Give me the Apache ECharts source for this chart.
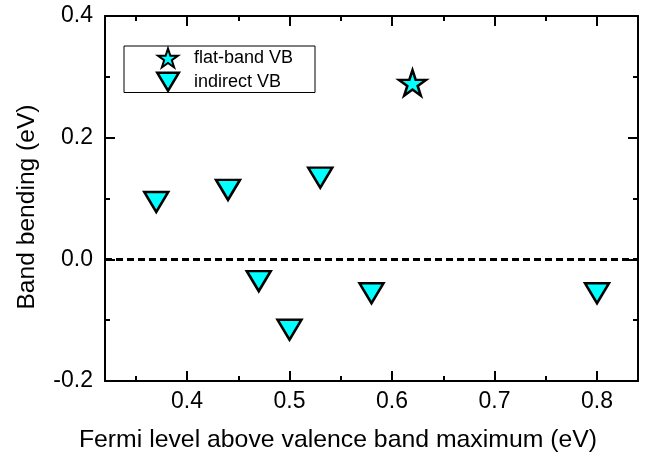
<!DOCTYPE html>
<html>
<head>
<meta charset="utf-8">
<script src="https://cdn.jsdelivr.net/npm/echarts@6/dist/echarts.min.js"></script>
<style>
  html, body { margin: 0; padding: 0; background: #fff; }
  #chart { width: 654px; height: 456px; }
</style>
</head>
<body>
<div id="chart"></div>
<script>
// Band bending versus Fermi level position
const flatBandX = [0.62];
const flatBandY = [0.29];
const indirectX = [0.37, 0.44, 0.47, 0.50, 0.53, 0.58, 0.80];
const indirectY = [0.10, 0.12, -0.03, -0.11, 0.14, -0.05, -0.05];

const xMajorTicks = [0.4, 0.5, 0.6, 0.7, 0.8];
const xMinorTicks = [0.35, 0.45, 0.55, 0.65, 0.75];
const xRange = [0.32, 0.84];
const yRange = [-0.2, 0.4];
const yStep = 0.2;
const zeroLevel = 0;

const seriesNames = ['flat-band VB', 'indirect VB'];
const xTitle = 'Fermi level above valence band maximum (eV)';
const yTitle = 'Band bending (eV)';

const FONT = "'Liberation Sans', Arial, sans-serif";
const CYAN = '#00FFFF';
const STAR = 'path://M0,-50 L11.23,-15.45 L47.55,-15.45 L18.17,5.9 L29.39,40.45 L0,19.1 L-29.39,40.45 L-18.17,5.9 L-47.55,-15.45 L-11.23,-15.45 Z';
const TRI_DOWN = 'path://M0,0 L24,0 L12,20 Z';

const zip = (xs, ys) => xs.map((x, i) => [x, ys[i]]);

const markerStyle = (w) => ({
  color: CYAN, borderColor: '#000', borderWidth: w, opacity: 1,
  borderJoin: 'miter', borderMiterLimit: 10
});

function xAxisDef(position, ticks, length, withLine, withLabels) {
  return {
    type: 'value', position: position, min: xRange[0], max: xRange[1],
    axisLine: { show: withLine, onZero: false, lineStyle: { color: '#000', width: 2 } },
    axisTick: { show: true, inside: true, length: length, customValues: ticks,
                lineStyle: { color: '#000', width: 2 } },
    axisLabel: withLabels ? {
      show: true, customValues: ticks, margin: 9,
      fontSize: 23, fontFamily: FONT, color: '#000',
      formatter: v => v.toFixed(1)
    } : { show: false },
    splitLine: { show: false }
  };
}

function yAxisDef(position, withLabels) {
  return {
    type: 'value', position: position, min: yRange[0], max: yRange[1], interval: yStep,
    axisLine: { show: true, onZero: false, lineStyle: { color: '#000', width: 2 } },
    axisTick: { show: true, inside: true, length: 10, lineStyle: { color: '#000', width: 2 } },
    minorTick: { show: true, splitNumber: 2, length: 5, lineStyle: { color: '#000', width: 2 } },
    axisLabel: withLabels ? {
      show: true, margin: 12, fontSize: 23, fontFamily: FONT, color: '#000',
      formatter: v => v.toFixed(1)
    } : { show: false },
    splitLine: { show: false }
  };
}

const chart = echarts.init(document.getElementById('chart'), null, { renderer: 'canvas' });

chart.setOption({
  animation: false,
  backgroundColor: '#fff',
  grid: { left: 105, right: 16, top: 16, bottom: 75, containLabel: false },
  xAxis: [
    xAxisDef('bottom', xMajorTicks, 10, true, true),
    xAxisDef('bottom', xMinorTicks, 5, false, false),
    xAxisDef('top', xMajorTicks, 10, true, false),
    xAxisDef('top', xMinorTicks, 5, false, false)
  ],
  yAxis: [
    yAxisDef('left', true),
    yAxisDef('right', false)
  ],
  legend: [
    {
      data: [{ name: seriesNames[0], icon: STAR }],
      left: 157, top: 47.5, padding: 0, selectedMode: false,
      itemWidth: 42, itemHeight: 19, symbolKeepAspect: true,
      itemStyle: markerStyle(2),
      textStyle: { fontSize: 18, fontFamily: FONT, color: '#000' }
    },
    {
      data: [{ name: seriesNames[1], icon: TRI_DOWN }],
      left: 156, top: 71.5, padding: 0, selectedMode: false,
      itemWidth: 42, itemHeight: 18, symbolKeepAspect: true,
      itemStyle: markerStyle(2.5),
      textStyle: { fontSize: 18, fontFamily: FONT, color: '#000' }
    }
  ],
  graphic: [
    {
      type: 'rect', silent: true, z: 5,
      shape: { x: 124, y: 46, width: 191, height: 46.5 },
      style: { fill: 'none', stroke: '#000', lineWidth: 1 }
    },
    {
      type: 'text', silent: true, x: 338, y: 440,
      style: { text: xTitle, font: '24.8px ' + FONT, fill: '#000',
               textAlign: 'center', textVerticalAlign: 'middle' }
    },
    {
      type: 'text', silent: true, x: 27, y: 207, rotation: Math.PI / 2,
      style: { text: yTitle, font: '24.6px ' + FONT, fill: '#000',
               textAlign: 'center', textVerticalAlign: 'middle' }
    }
  ],
  series: [
    {
      name: seriesNames[1], type: 'scatter', xAxisIndex: 0, yAxisIndex: 0,
      data: zip(indirectX, indirectY),
      symbol: TRI_DOWN, symbolSize: [24, 20], symbolOffset: [0, 3.5],
      itemStyle: markerStyle(2.5),
      markLine: {
        silent: true, symbol: ['none', 'none'], label: { show: false },
        lineStyle: { color: '#000', width: 3, type: [7, 4], opacity: 1 },
        emphasis: { disabled: true },
        data: [{ yAxis: zeroLevel }]
      },
      z: 3
    },
    {
      name: seriesNames[0], type: 'scatter', xAxisIndex: 0, yAxisIndex: 0,
      data: zip(flatBandX, flatBandY),
      symbol: STAR, symbolSize: [27, 25.5],
      itemStyle: markerStyle(2.5),
      z: 4
    }
  ]
});
</script>
</body>
</html>
